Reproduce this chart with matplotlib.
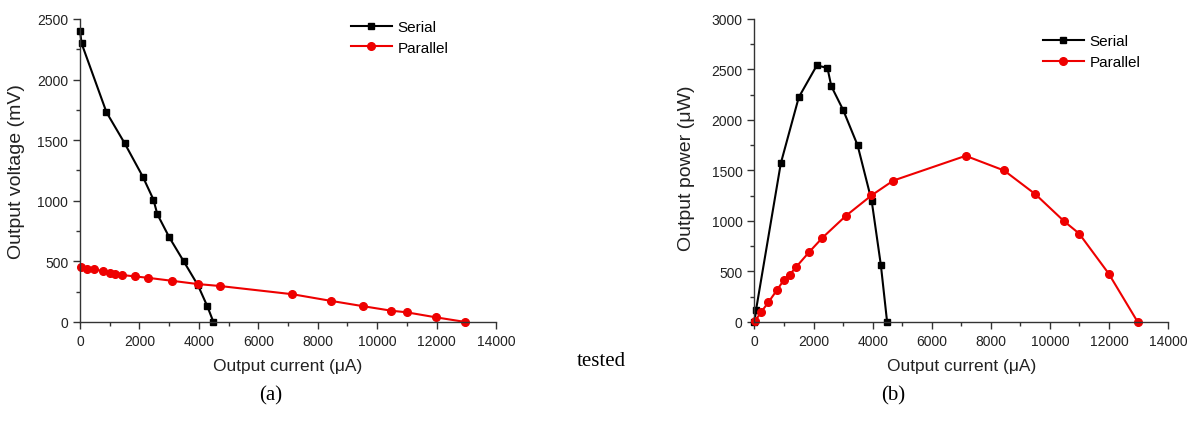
import matplotlib
matplotlib.use('Agg')
import matplotlib.pyplot as plt
from matplotlib.ticker import MultipleLocator

plt.rcParams['font.family'] = ['Liberation Sans', 'DejaVu Sans']

# serial connection
serial_i = [0, 50, 890, 1500, 2110, 2470, 2600, 3000, 3490, 3970, 4280, 4490]
serial_v = [2400, 2300, 1730, 1475, 1200, 1010, 890, 700, 500, 302, 132, 0]
serial_p = [0, 115, 1570, 2225, 2540, 2515, 2335, 2100, 1750, 1195, 560, 0]

# parallel connection
parallel_i = [20, 230, 470, 770, 1000, 1190, 1400, 1850, 2300, 3090, 3960, 4700,
              7150, 8450, 9510, 10480, 10990, 11990, 12975]
parallel_v = [450, 440, 434, 420, 408, 397, 388, 376, 364, 340, 313, 297,
              229, 174, 131, 93, 80, 38, 0]
parallel_p = [10, 100, 195, 320, 418, 468, 541, 692, 834, 1050, 1253, 1400,
              1645, 1500, 1265, 998, 876, 480, 0]

fig = plt.figure(figsize=(12.02, 4.35), dpi=100)
ax1 = fig.add_axes([0.0666, 0.2575, 0.346, 0.6966])
ax2 = fig.add_axes([0.6277, 0.2575, 0.344, 0.6966])


def style(ax, ymax, ymajor):
    ax.set_xlim(0, 14000)
    ax.set_ylim(0, ymax)
    ax.xaxis.set_major_locator(MultipleLocator(2000))
    ax.xaxis.set_minor_locator(MultipleLocator(1000))
    ax.yaxis.set_major_locator(MultipleLocator(ymajor))
    ax.yaxis.set_minor_locator(MultipleLocator(ymajor / 2))
    for s in ['top', 'right']:
        ax.spines[s].set_visible(False)
    for s in ['left', 'bottom']:
        ax.spines[s].set_color('#333333')
        ax.spines[s].set_linewidth(1.0)
    ax.tick_params(which='major', direction='out', length=5, width=1,
                   labelsize=10, colors='#333333', labelcolor='#222222')
    ax.tick_params(which='minor', direction='out', length=3, width=1, colors='#333333')
    ax.set_xlabel('Output current (\u03bcA)', fontsize=12.5, color='#222222', labelpad=7)


def legend(ax, x, y):
    ax.legend(loc='upper left', bbox_to_anchor=(x, y), frameon=False, fontsize=11,
              handlelength=2.7, handletextpad=0.35, labelspacing=0.45,
              borderpad=0, borderaxespad=0)


ax1.plot(serial_i, serial_v, color='black', linewidth=1.5, marker='s', markersize=5,
         label='Serial', clip_on=False)
ax1.plot(parallel_i, parallel_v, color='#ee0000', linewidth=1.5, marker='o', markersize=5.5,
         label='Parallel', clip_on=False)
style(ax1, 2500, 500)
ax1.set_ylabel('Output voltage (mV)', fontsize=14, color='#222222')
ax1.yaxis.set_label_coords(-0.132, 0.5)
legend(ax1, 0.651, 0.997)

ax2.plot(serial_i, serial_p, color='black', linewidth=1.5, marker='s', markersize=5,
         label='Serial', clip_on=False)
ax2.plot(parallel_i, parallel_p, color='#ee0000', linewidth=1.5, marker='o', markersize=5.5,
         label='Parallel', clip_on=False)
style(ax2, 3000, 500)
ax2.set_ylabel('Output power (\u03bcW)', fontsize=14, color='#222222')
ax2.yaxis.set_label_coords(-0.144, 0.51)
legend(ax2, 0.697, 0.95)

fig.text(0.5, 0.17, 'tested', family='Liberation Serif', fontsize=15, ha='center', va='center')
fig.text(0.2255, 0.09, '(a)', family='Liberation Serif', fontsize=15, ha='center', va='center')
fig.text(0.743, 0.09, '(b)', family='Liberation Serif', fontsize=15, ha='center', va='center')

fig.savefig('out.png', dpi=100)
